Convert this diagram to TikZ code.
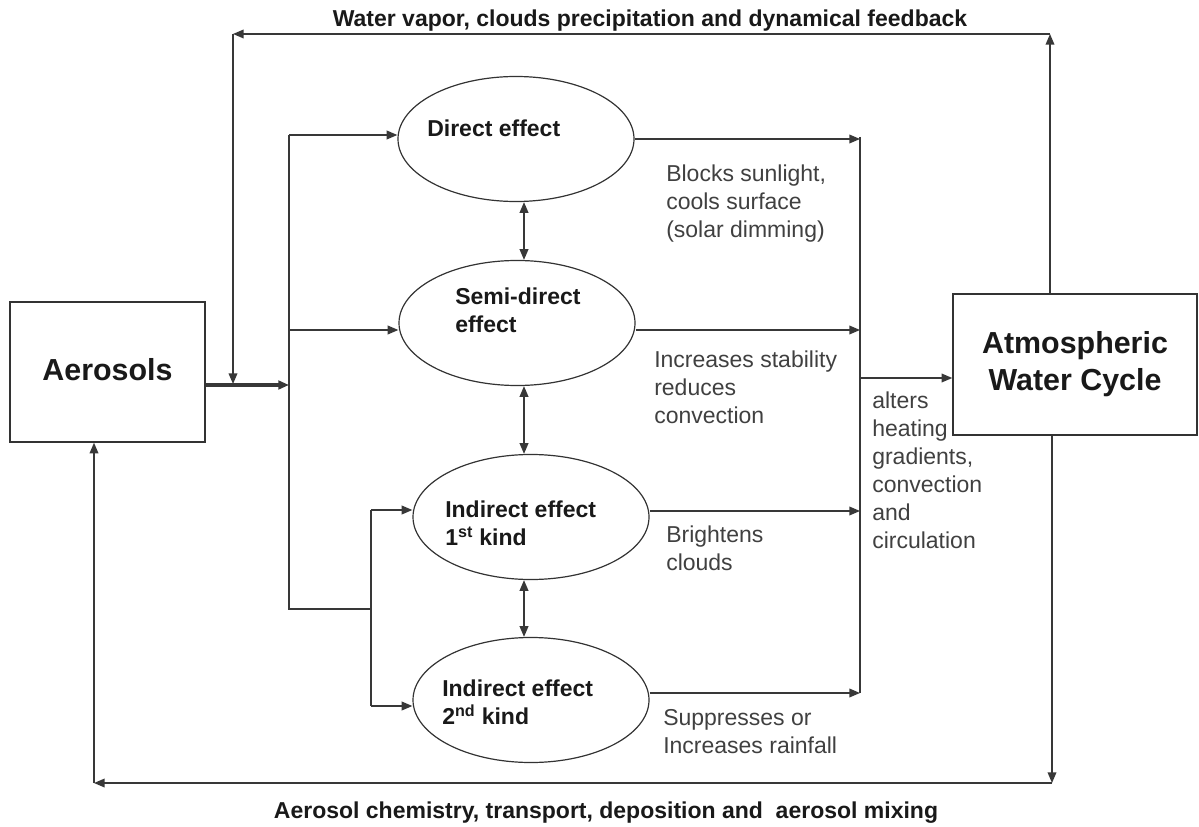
\documentclass[tikz,border=0pt]{standalone}
\usepackage{fontspec}
\setmainfont{Liberation Sans}
\usetikzlibrary{arrows.meta,shapes.geometric,calc}
\tikzset{
 box/.style={draw=black!80,line width=1.1pt,rectangle,inner sep=0,font=\bfseries\fontsize{22.8}{27.75}\selectfont,align=center,text=black!90},
 eff/.style={draw=black!80,line width=0.9pt,ellipse,minimum width=177pt,minimum height=93.75pt,inner sep=0},
 efftext/.style={anchor=north west,inner sep=0,align=left,font=\bfseries\fontsize{17.25}{21}\selectfont,text=black!90},
 note/.style={anchor=north west,inner sep=0,align=left,font=\fontsize{17.25}{21}\selectfont,text=black!75},
 title/.style={inner sep=0,font=\bfseries\fontsize{17.25}{21}\selectfont,text=black!90},
 ln/.style={draw=black!78,line width=1.1pt},
 arr/.style={ln,-{Triangle[length=8pt,width=6.5pt]}},
 darr/.style={ln,{Triangle[length=8pt,width=6.5pt]}-{Triangle[length=8pt,width=6.5pt]}},
}
\begin{document}
\begin{tikzpicture}[x=0.75pt,y=-0.75pt]
\useasboundingbox (0,0) rectangle (1199,827);
% boxes
\node[box,minimum width=146.25pt,minimum height=105pt] (aer) at (107.5,372) {\raisebox{4pt}{Aerosols}};
\node[box,minimum width=183pt,minimum height=105.75pt] (awc) at (1075,364.5) {Atmospheric\\Water Cycle};
% ellipses
\node[eff] (d) at (516,139) {};
\node[eff] (s) at (517,323) {};
\node[eff] (i1) at (531,517) {};
\node[eff] (i2) at (531,700) {};
\node[efftext] (dt) at (427,120) {Direct effect};
\node[efftext] (st) at (455,288) {Semi-direct\\effect};
\node[efftext] (i1t) at (445,501) {Indirect effect\\1\textsuperscript{st}\ kind};
\node[efftext] (i2t) at (442,680) {Indirect effect\\2\textsuperscript{nd} kind};
% coordinates
\coordinate (jn) at (289,385);
\coordinate (tt) at (289,135);
\coordinate (tb) at (289,609);
\coordinate (ts) at (289,330);
\coordinate (bb) at (371,609);
\coordinate (b1) at (371,510);
\coordinate (b2) at (371,706);
\coordinate (ct) at (860,137);
\coordinate (cb) at (860,693);
\coordinate (co) at (860,378);
\coordinate (ftl) at (233,34);
\coordinate (ftr) at (1050,34);
\coordinate (fbr) at (1052,783);
\coordinate (fbl) at (94,783);
\coordinate (bx) at (524,0);
% input connectors
\draw[ln,line width=2.6pt,-{Triangle[length=8pt,width=6.5pt]}] (jn -| aer.east) -- (jn);
\draw[ln] (tt) -- (tb) -- (bb);
\draw[arr] (tt) -- (tt -| d.west);
\draw[arr] (ts) -- (ts -| s.west);
\draw[ln] (b1) -- (b2);
\draw[arr] (b1) -- (b1 -| i1.west);
\draw[arr] (b2) -- (b2 -| i2.west);
% between effects
\draw[darr] (d.south -| bx) -- (s.north -| bx);
\draw[darr] (s.south -| bx) -- (i1.north -| bx);
\draw[darr] (i1.south -| bx) -- (i2.north -| bx);
% outputs
\draw[arr] (d.east) -- (d.east -| ct);
\draw[arr] ($(s.east)+(0,7)$) coordinate (so) -- (so -| ct);
\draw[arr] ($(i1.east)+(0,-6)$) coordinate (o1) -- (o1 -| ct);
\draw[arr] ($(i2.east)+(0,-7)$) coordinate (o2) -- (o2 -| ct);
\draw[ln] (ct) -- (cb);
\draw[arr] (co) -- (co -| awc.west);
% feedback loops
\draw[arr] (awc.north -| ftr) -- (ftr);
\draw[arr] (ftr) -- (ftl);
\draw[arr] (ftl) -- ($(ftl |- jn)+(0,-1)$);
\draw[arr] (awc.south -| fbr) -- (fbr);
\draw[arr] (fbr) -- (fbl);
\draw[arr] (fbl) -- (fbl |- aer.south);
% labels
\node[title] (tl) at (650,21) {Water vapor, clouds precipitation and dynamical feedback};
\node[title] (bl) at (606,813) {Aerosol chemistry, transport, deposition and\ \ aerosol mixing};
\node[note] (n1) at (666,165) {Blocks sunlight,\\cools surface\\(solar dimming)};
\node[note] (n2) at (654,351) {Increases stability\\reduces\\convection};
\node[note] (n3) at (666,526) {Brightens\\clouds};
\node[note] (n4) at (663,709) {Suppresses or\\Increases rainfall};
\node[note] (n5) at (872,392) {alters\\heating\\gradients,\\convection\\and\\circulation};
\end{tikzpicture}
\end{document}
